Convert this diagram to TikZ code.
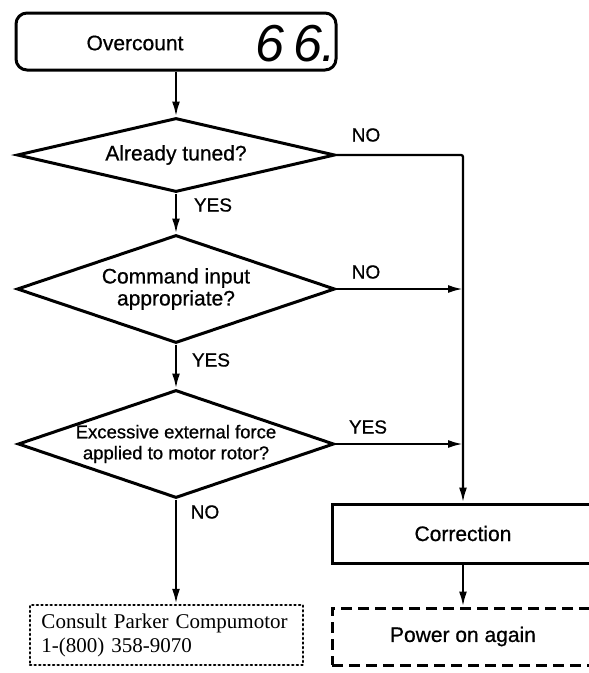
\documentclass[tikz,border=0pt]{standalone}
\usepackage{fontspec}
\setmainfont{Liberation Sans}
\newfontfamily\medsans{Liberation Sans}[FakeBold=0.7]
\newfontfamily\serifface{Liberation Serif}
\usetikzlibrary{shapes.geometric,arrows.meta}
\tikzset{
  shape line/.style={line width=3pt},
  dia/.style={shape line, draw, diamond, inner sep=0pt, minimum width=318pt},
  conn/.style={line width=2.3pt},
  arr/.style={conn, -{Latex[length=15pt,width=8pt]}},
  txt/.style={font=\medsans\fontsize{21}{22}\selectfont, inner sep=0pt, align=center},
  smalltxt/.style={font=\medsans\fontsize{18.5}{21}\selectfont, inner sep=0pt, align=center},
  lbl/.style={font=\medsans\fontsize{19}{20}\selectfont, inner sep=0pt},
  ovbox/.style={shape line, draw, rounded corners=11pt, minimum width=320pt, minimum height=57pt},
  corrbox/.style={shape line, draw, minimum width=262pt, minimum height=59pt, font=\medsans\fontsize{21}{22}\selectfont},
  pwbox/.style={shape line, draw, dash pattern=on 11pt off 6pt, minimum width=262pt, minimum height=57pt, font=\medsans\fontsize{21}{22}\selectfont},
  consbox/.style={line width=2.4pt, draw, dash pattern=on 1.2pt off 3.4pt, line cap=round, text width=250pt, inner xsep=11.5pt, minimum height=60pt, align=left, font=\serifface\fontsize{21}{24}\selectfont}
}
\begin{document}
\begin{tikzpicture}[x=1pt,y=-1pt]
\useasboundingbox (0,0) rectangle (589,673);
\clip (0,0) rectangle (589,673);
% top box
\node[ovbox] (oc) at (176,41.5) {};
\node[txt] (octxt) at (135,43) {Overcount};
\node[inner sep=0pt, font=\fontsize{52}{52}\itshape] (ocnum) at (296,44) {6\,6.};
% diamonds
\node[dia, minimum height=74pt] (d1) at (176,155) {};
\node[txt] (d1t) at (d1.center) {Already tuned?};
\node[dia, minimum height=108pt] (d2) at (176,289) {};
\node[txt] (d2t) at (d2.center) {Command input\\appropriate?};
\node[dia, minimum height=108pt, minimum width=316pt] (d3) at (176,444) {};
\node[smalltxt] (d3t) at (d3.center) {Excessive external force\\applied to motor rotor?};
% boxes
\node[corrbox] (corr) at (463,533.5) {Correction};
\node[pwbox] (pw) at (463,636.5) {Power on again};
\node[consbox] (cons) at (166.5,635) {Consult Parker Compumotor\\1-(800) 358-9070};
% connectors
\draw[arr] (oc.south) -- (d1.north);
\draw[arr] (d1.south) -- (d2.north);
\draw[arr] (d2.south) -- (d3.north);
\draw[arr] (d3.south) -- (d3.south |- cons.north);
\draw[arr, rounded corners=2pt] (d1.east) -| (corr.north);
\draw[arr] (d2.east) -- (d2.east -| corr.north);
\draw[arr] (d3.east) -- (d3.east -| corr.north);
\draw[arr] (corr.south) -- (pw.north);
% labels
\node[lbl] (l1) at (366,135) {NO};
\node[lbl] (l2) at (213,205) {YES};
\node[lbl] (l3) at (366,272) {NO};
\node[lbl] (l4) at (211,360) {YES};
\node[lbl] (l5) at (368,427) {YES};
\node[lbl] (l6) at (205,512) {NO};
\end{tikzpicture}
\end{document}
